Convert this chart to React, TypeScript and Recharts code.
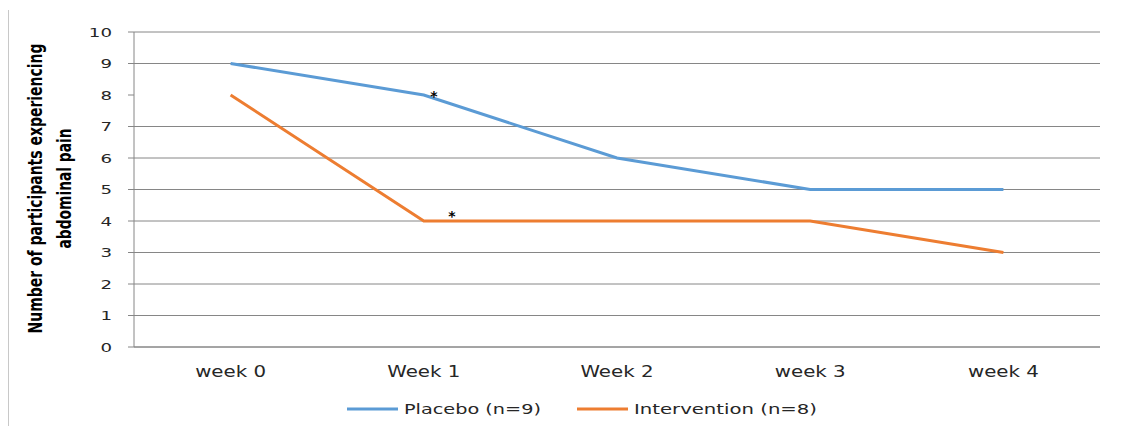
import { LineChart, Line, XAxis, YAxis, CartesianGrid, Legend, LabelList } from "recharts";

// weekly counts of participants reporting abdominal pain
const weeks = ["week 0", "Week 1", "Week 2", "week 3", "week 4"];
const placebo = [9, 8, 6, 5, 5];
const intervention = [8, 4, 4, 4, 3];
const yTicks = [0, 1, 2, 3, 4, 5, 6, 7, 8, 9, 10];
const gridValues = [0, 1, 2, 3, 4, 5, 6, 7, 9, 10];
const edgeTicks = [0, 1, 2, 3, 4, 5];
const starredWeek = 1;

const BLUE = "#5B9BD5";
const ORANGE = "#ED7D31";
const AXIS = "#868686";
const TEXT = "#262626";
const FONT = "'DejaVu Sans', Verdana, sans-serif";

const data = weeks.map((week, i) => ({
  week,
  idx: i,
  placebo: placebo[i],
  intervention: intervention[i],
}));

function XTick({ x, y, payload }: any) {
  return (
    <g transform={`translate(${x},${y})`}>
      <text transform="scale(1.32,1)" textAnchor="middle" dy="0.76em" fontSize={15} fontFamily={FONT} fill={TEXT}>
        {payload.value}
      </text>
    </g>
  );
}

function YTick({ x, y, payload }: any) {
  return (
    <g transform={`translate(${x},${y})`}>
      <text transform="scale(1.4,1)" textAnchor="end" dy="0.36em" fontSize={13} fontFamily={FONT} fill={TEXT}>
        {payload.value}
      </text>
    </g>
  );
}

function YTitle({ viewBox }: any) {
  const cy = viewBox.y + viewBox.height / 2 - 1;
  const common = {
    fontSize: 20,
    fontWeight: 700,
    fontFamily: "'Liberation Sans Narrow', 'DejaVu Sans Condensed', sans-serif",
    fill: "#000",
    textAnchor: "middle" as const,
    lengthAdjust: "spacingAndGlyphs",
  };
  return (
    <g>
      <text {...common} x={42} y={cy} transform={`rotate(-90, 42, ${cy})`} textLength={290}>
        Number of participants experiencing
      </text>
      <text {...common} x={71} y={cy} transform={`rotate(-90, 71, ${cy})`} textLength={120}>
        abdominal pain
      </text>
    </g>
  );
}

// asterisk next to the week 1 point, offset per series
const star = (dx: number, dy: number) => (props: any) => {
  const { x, y, index } = props;
  if (index !== starredWeek) return null;
  return (
    <text x={x + dx} y={y + dy + 8} textAnchor="middle" fontSize={14} fontWeight={700} fontFamily={FONT} fill="#000">
      *
    </text>
  );
};

function LegendBox() {
  const items = [
    { name: "Placebo (n=9)", color: BLUE, x: 347, len: 137 },
    { name: "Intervention (n=8)", color: ORANGE, x: 577, len: 183 },
  ];
  return (
    <svg width={1143} height={40}>
      {items.map((it) => (
        <g key={it.name}>
          <line x1={it.x} x2={it.x + 51} y1={19} y2={19} stroke={it.color} strokeWidth={3} />
          <text
            x={it.x + 57}
            y={19}
            dy="0.36em"
            fontSize={14}
            fontFamily={FONT}
            fill={TEXT}
            textLength={it.len}
            lengthAdjust="spacingAndGlyphs"
          >
            {it.name}
          </text>
        </g>
      ))}
    </svg>
  );
}

export default function App() {
  return (
    <div style={{ position: "relative", margin: -8, width: 1143, height: 434, background: "#fff" }}>
      <div style={{ position: "absolute", left: 8, top: 10, height: 424, borderLeft: "1px solid #c8c8c8" }} />
      <LineChart width={1143} height={434} data={data} margin={{ top: 32, right: 43, left: 0, bottom: 17 }}>
        {/* gridlines follow their own hidden axis so the row at 8 can be left out */}
        <CartesianGrid yAxisId="grid" horizontal vertical={false} stroke={AXIS} strokeWidth={1} />
        <XAxis
          xAxisId="edges"
          type="number"
          dataKey="idx"
          domain={[0, 5]}
          ticks={edgeTicks}
          allowDataOverflow
          height={0}
          tick={false}
          axisLine={false}
          tickSize={5}
          tickLine={{ stroke: AXIS }}
        />
        <XAxis
          dataKey="week"
          scale="band"
          height={30}
          tickLine={false}
          tickSize={5}
          tickMargin={14}
          axisLine={{ stroke: AXIS }}
          tick={<XTick />}
          interval={0}
        />
        <YAxis yAxisId="grid" hide domain={[0, 10]} ticks={gridValues} interval={0} allowDataOverflow />
        <YAxis
          width={134}
          domain={[0, 10]}
          ticks={yTicks}
          interval={0}
          tickSize={6}
          tickMargin={16}
          axisLine={{ stroke: AXIS }}
          tickLine={{ stroke: AXIS }}
          tick={<YTick />}
          label={{ content: <YTitle /> }}
        />
        <Legend
          height={40}
          verticalAlign="bottom"
          content={() => <LegendBox />}
          wrapperStyle={{ left: 0, top: 390, bottom: "auto", width: 1143 }}
        />
        <Line
          type="linear"
          dataKey="placebo"
          stroke={BLUE}
          strokeWidth={3}
          dot={false}
          isAnimationActive={false}
        >
          <LabelList dataKey="placebo" content={star(10, -2)} />
        </Line>
        <Line
          type="linear"
          dataKey="intervention"
          stroke={ORANGE}
          strokeWidth={3}
          dot={false}
          isAnimationActive={false}
        >
          <LabelList dataKey="intervention" content={star(28, -8)} />
        </Line>
      </LineChart>
    </div>
  );
}
